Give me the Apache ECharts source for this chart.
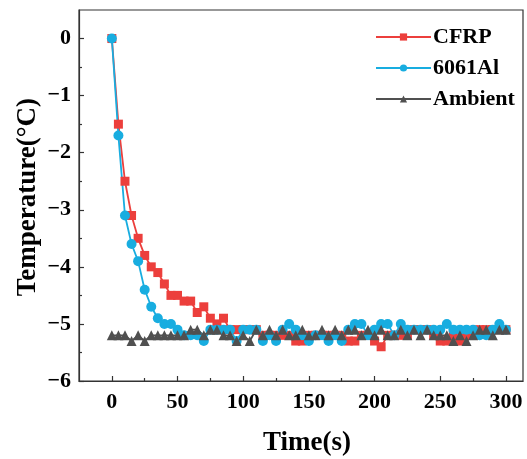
<!DOCTYPE html>
<html>
<head>
<meta charset="utf-8">
<script src="https://cdn.jsdelivr.net/npm/echarts@6/dist/echarts.min.js"></script>
<style>html,body{margin:0;padding:0;background:#fff}#c{width:527px;height:459px}</style>
</head>
<body>
<div id="c"></div>
<script>
const times = [0,5,10,15,20,25,30,35,40,45,50,55,60,65,70,75,80,85,90,95,100,105,110,115,120,125,130,135,140,145,150,155,160,165,170,175,180,185,190,195,200,205,210,215,220,225,230,235,240,245,250,255,260,265,270,275,280,285,290,295,300];
const cfrp = [0,-1.5,-2.5,-3.1,-3.5,-3.8,-4.0,-4.1,-4.3,-4.5,-4.5,-4.6,-4.6,-4.8,-4.7,-4.9,-5.0,-4.9,-5.1,-5.1,-5.1,-5.1,-5.1,-5.2,-5.2,-5.2,-5.2,-5.2,-5.3,-5.3,-5.2,-5.2,-5.2,-5.2,-5.2,-5.2,-5.3,-5.3,-5.2,-5.2,-5.3,-5.4,-5.2,-5.2,-5.2,-5.2,-5.1,-5.1,-5.1,-5.2,-5.3,-5.3,-5.2,-5.3,-5.2,-5.2,-5.1,-5.1,-5.1,-5.1,-5.1];
const al6061 = [0,-1.7,-3.1,-3.6,-3.9,-4.4,-4.7,-4.9,-5.0,-5.0,-5.1,-5.2,-5.2,-5.2,-5.3,-5.1,-5.1,-5.1,-5.1,-5.3,-5.1,-5.1,-5.1,-5.3,-5.2,-5.3,-5.1,-5.0,-5.1,-5.2,-5.3,-5.2,-5.2,-5.3,-5.2,-5.3,-5.1,-5.0,-5.0,-5.2,-5.1,-5.0,-5.0,-5.2,-5.0,-5.1,-5.1,-5.1,-5.1,-5.1,-5.1,-5.0,-5.1,-5.1,-5.1,-5.1,-5.2,-5.2,-5.1,-5.0,-5.1];
const ambient = [-5.2,-5.2,-5.2,-5.3,-5.2,-5.3,-5.2,-5.2,-5.2,-5.2,-5.2,-5.2,-5.1,-5.1,-5.2,-5.1,-5.1,-5.2,-5.2,-5.3,-5.2,-5.3,-5.1,-5.2,-5.1,-5.2,-5.1,-5.2,-5.2,-5.1,-5.2,-5.2,-5.1,-5.2,-5.1,-5.2,-5.1,-5.1,-5.2,-5.1,-5.2,-5.1,-5.2,-5.2,-5.1,-5.2,-5.1,-5.2,-5.1,-5.2,-5.2,-5.2,-5.3,-5.2,-5.3,-5.2,-5.1,-5.1,-5.2,-5.1,-5.1];
const xTicks = [0,50,100,150,200,250,300];
const xMinor = [25,75,125,175,225,275];
const yTicks = [-6,-5,-4,-3,-2,-1,0];
const yMinor = [-5.5,-4.5,-3.5,-2.5,-1.5,-0.5];
const names = ['CFRP','6061Al','Ambient'];

const FONT = '"Liberation Serif","Times New Roman",serif';
const axisColor = '#333';
const pair = arr => times.map((t,i)=>[t,arr[i]]);
const chart = echarts.init(document.getElementById('c'), null, {renderer:'canvas'});
const xBase = {type:'value', min:-25, max:313, gridIndex:0, position:'bottom'};
const yBase = {type:'value', min:-6, max:0.5, gridIndex:0, position:'left'};
chart.setOption({
  animation:false,
  backgroundColor:'#fff',
  grid:{left:79, right:4, top:10, bottom:78, show:true, borderColor:axisColor, borderWidth:1.2, backgroundColor:'transparent',
        containLabel:false, outerBoundsMode:'none'},
  legend:{
    orient:'vertical', left:370, top:21, itemWidth:55, itemHeight:9, itemGap:9,
    textStyle:{fontFamily:FONT, fontWeight:'bold', fontSize:22, color:'#000', padding:[0,0,0,-3]},
    data:names
  },
  xAxis:[
    Object.assign({}, xBase, {
      axisLine:{onZero:false, lineStyle:{color:axisColor, width:1.2}},
      axisTick:{inside:true, length:5, lineStyle:{color:axisColor, width:1.2}, customValues:xTicks},
      axisLabel:{customValues:xTicks, fontFamily:FONT, fontWeight:'bold', fontSize:22, color:'#000', margin:10},
      splitLine:{show:false},
      name:'Time(s)', nameLocation:'middle', nameGap:49,
      nameTextStyle:{fontFamily:FONT, fontWeight:'bold', fontSize:27, color:'#000', padding:[0,0,0,12]}
    }),
    Object.assign({}, xBase, {
      axisLine:{show:false, onZero:false},
      axisTick:{inside:true, length:3, lineStyle:{color:axisColor, width:1.2}, customValues:xMinor},
      axisLabel:{show:false}, splitLine:{show:false}
    })
  ],
  yAxis:[
    Object.assign({}, yBase, {
      axisLine:{show:true, onZero:false, lineStyle:{color:axisColor, width:1.2}},
      axisTick:{show:true, inside:true, length:5, lineStyle:{color:axisColor, width:1.2}, customValues:yTicks},
      axisLabel:{customValues:yTicks, fontFamily:FONT, fontWeight:'bold', fontSize:22, color:'#000', margin:8,
        formatter:v=>String(v).replace('-','\u2212')},
      splitLine:{show:false}
    }),
    Object.assign({}, yBase, {
      axisLine:{show:false, onZero:false},
      axisTick:{show:true, inside:true, length:3, lineStyle:{color:axisColor, width:1.2}, customValues:yMinor},
      axisLabel:{show:false}, splitLine:{show:false}
    })
  ],
  graphic:[{
    type:'text', left:15, top:98, rotation:Math.PI/2,
    style:{text:'Temperature(\u00B0C)', fontFamily:FONT, fontWeight:'bold', fontSize:27, fill:'#000'}
  }],
  series:[
    {name:names[0], type:'line', data:pair(cfrp), symbol:'rect', symbolSize:9,
     itemStyle:{color:'#ec3f3c'}, lineStyle:{color:'#ec3f3c', width:1.8}},
    {name:names[1], type:'line', data:pair(al6061), symbol:'circle', symbolSize:10,
     itemStyle:{color:'#18ade0'}, lineStyle:{color:'#18ade0', width:1.8}},
    {name:names[2], type:'line', data:pair(ambient), symbol:'triangle', symbolSize:10,
     itemStyle:{color:'#505050'}, lineStyle:{color:'#505050', width:1.8}}
  ]
});
</script>
</body>
</html>
